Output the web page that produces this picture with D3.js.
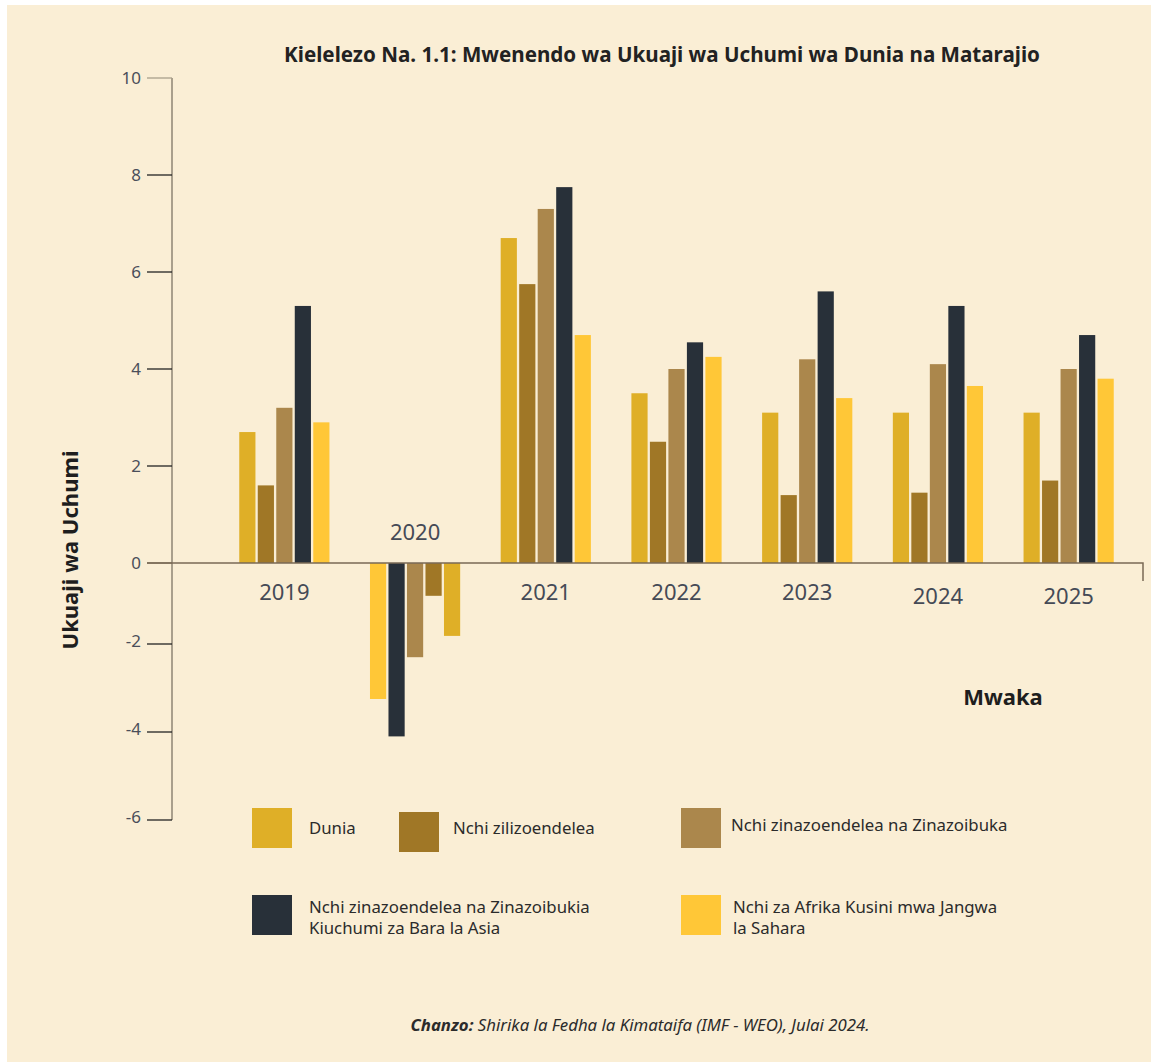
<!DOCTYPE html>
<meta charset="utf-8">
<style>
body { margin: 0; background: #fff; }
svg text { font-family: "Noto Sans", "Open Sans", sans-serif; }
.tick-label { font-size: 17px; fill: #4a4e5a; }
.year { font-size: 22px; fill: #454a56; text-anchor: middle; }
.legend text { font-size: 16.8px; fill: #2b2b2b; }
</style>
<body>
<svg width="1151" height="1062"></svg>
<script src="https://cdn.jsdelivr.net/npm/d3@7"></script>
<script>
var years = ["2019", "2020", "2021", "2022", "2023", "2024", "2025"];
var seriesNames = ["Dunia", "Nchi zilizoendelea", "Nchi zinazoendelea na Zinazoibuka",
                   "Nchi zinazoendelea na Zinazoibukia Kiuchumi za Bara la Asia",
                   "Nchi za Afrika Kusini mwa Jangwa la Sahara"];
var dunia    = [2.7, -1.8, 6.7, 3.5, 3.1, 3.1, 3.1];
var advanced = [1.6, -0.81, 5.75, 2.5, 1.4, 1.45, 1.7];
var emerging = [3.2, -2.3, 7.3, 4.0, 4.2, 4.1, 4.0];
var asia     = [5.3, -4.1, 7.75, 4.55, 5.6, 5.3, 4.7];
var ssa      = [2.9, -3.25, 4.7, 4.25, 3.4, 3.65, 3.8];
var yTicks = [10, 8, 6, 4, 2, 0, -2, -4, -6];
var colors = ["#dfaf27", "#a07726", "#ab874c", "#283039", "#ffc737"];

var values = [dunia, advanced, emerging, asia, ssa];

var svg = d3.select("svg");
svg.append("rect").attr("x", 7).attr("y", 5).attr("width", 1144).attr("height", 1057).attr("fill", "#faeed5");

// scale is uneven in the original (compressed below zero)
var y = d3.scaleLinear().domain([-6, -2, 0, 10]).range([820, 644, 563, 78]);
var x0 = d3.scaleBand().domain(years).range([219, 1134]).paddingInner(0.31).paddingOuter(0.155);
var x1 = d3.scaleBand().domain(d3.range(5)).range([0, x0.bandwidth()]).paddingInner(0.125);

// y axis
svg.append("line").attr("x1", 172).attr("x2", 172).attr("y1", y(10)).attr("y2", y(-6))
  .attr("stroke", "#a99f8c").attr("stroke-width", 2);
var t = svg.selectAll(".yt").data(yTicks).enter().append("g").attr("class", "yt");
t.append("line").attr("x1", 147).attr("x2", 172)
  .attr("y1", function(d) { return y(d); }).attr("y2", function(d) { return y(d); })
  .attr("stroke", function(d) { return d == 10 ? "#a99f8c" : d == 0 ? "#7a6a55" : "#222"; })
  .attr("stroke-width", 1.3);
t.append("text").attr("class", "tick-label").attr("x", 141).attr("text-anchor", "end")
  .attr("y", function(d) { return y(d) - (d < 0 ? 3 : 0); }).attr("dy", "0.35em")
  .text(function(d) { return d; });

// bars
var groups = svg.selectAll(".grp").data(years).enter().append("g")
  .attr("transform", function(d) { return "translate(" + x0(d) + ",0)"; });
groups.selectAll("rect").data(function(yr, i) {
    var idx = d3.range(5);
    if (yr == "2020") idx.reverse(); // 2020 drawn in reverse order
    return idx.map(function(s, pos) { return { s: s, pos: pos, v: values[s][i] }; });
  }).enter().append("rect")
  .attr("x", function(d) { return x1(d.pos); })
  .attr("width", x1.bandwidth())
  .attr("y", function(d) { return y(Math.max(0, d.v)); })
  .attr("height", function(d) { return Math.abs(y(d.v) - y(0)); })
  .attr("fill", function(d) { return colors[d.s]; });

// zero line
svg.append("path").attr("d", "M147," + y(0) + "H1143V581").attr("fill", "none")
  .attr("stroke", "#7a6a55").attr("stroke-width", 1.5);

groups.append("text").attr("class", "year")
  .attr("x", x0.bandwidth() / 2)
  .attr("y", function(d, i) { return dunia[i] < 0 ? 540 : (i >= 5 ? 604 : 600); })
  .text(function(d) { return d; });

// titles
svg.append("text").attr("x", 662).attr("y", 62).attr("text-anchor", "middle")
  .style("font-size", "20.6px").style("font-weight", "bold").attr("fill", "#222")
  .text("Kielelezo Na. 1.1: Mwenendo wa Ukuaji wa Uchumi wa Dunia na Matarajio");
svg.append("text").attr("transform", "translate(78,550) rotate(-90)").attr("text-anchor", "middle")
  .style("font-size", "22px").style("font-weight", "bold").attr("fill", "#1e1e1e")
  .text("Ukuaji wa Uchumi");
svg.append("text").attr("x", 1003).attr("y", 705).attr("text-anchor", "middle")
  .style("font-size", "22px").style("font-weight", "bold").attr("fill", "#1e1e1e")
  .text("Mwaka");

// legend
var legendPos = [[252, 808, 309, 828], [399, 812, 453, 828], [681, 808, 731, 825],
                 [252, 895, 309, 907], [681, 895, 733, 907]];
var legendLines = [["Dunia"], ["Nchi zilizoendelea"], ["Nchi zinazoendelea na Zinazoibuka"],
                   ["Nchi zinazoendelea na Zinazoibukia", "Kiuchumi za Bara la Asia"],
                   ["Nchi za Afrika Kusini mwa Jangwa", "la Sahara"]];
var lg = svg.selectAll(".legend").data(seriesNames).enter().append("g").attr("class", "legend");
lg.append("rect").attr("width", 40).attr("height", 40)
  .attr("x", function(d, i) { return legendPos[i][0]; })
  .attr("y", function(d, i) { return legendPos[i][1]; })
  .attr("fill", function(d, i) { return colors[i]; });
lg.each(function(d, i) {
  var tx = d3.select(this).append("text").attr("y", legendPos[i][3]).attr("dy", "0.35em");
  legendLines[i].forEach(function(l, k) {
    tx.append("tspan").attr("x", legendPos[i][2]).attr("dy", k == 0 ? "0.35em" : "21px").text(l);
  });
});

// source
var src = svg.append("text").attr("x", 640).attr("y", 1031).attr("text-anchor", "middle")
  .style("font-size", "16.8px").style("font-style", "italic").attr("fill", "#2b2b2b");
src.append("tspan").style("font-weight", "bold").text("Chanzo:");
src.append("tspan").text(" Shirika la Fedha la Kimataifa (IMF - WEO), Julai 2024.");
</script>
</body>
